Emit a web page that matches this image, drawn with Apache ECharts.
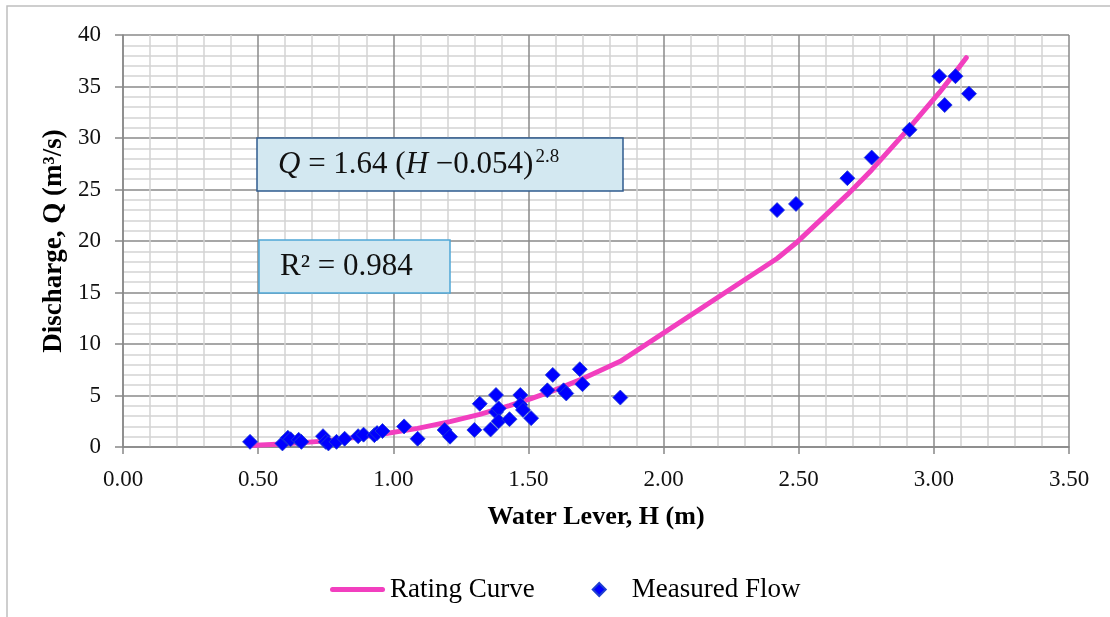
<!DOCTYPE html>
<html>
<head>
<meta charset="utf-8">
<script src="https://cdn.jsdelivr.net/npm/echarts@6/dist/echarts.min.js"></script>
<style>
  html, body { margin: 0; padding: 0; background: #fff; }
  #main { width: 1110px; height: 617px; }
</style>
</head>
<body>
<div id="main"></div>
<script>
// measured points (water level H in m, discharge Q in m3/s)
var measuredH = [0.47, 0.59, 0.61, 0.62, 0.65, 0.66, 0.74, 0.75, 0.76, 0.79, 0.82,
  0.87, 0.89, 0.93, 0.94, 0.96, 1.04, 1.09, 1.19, 1.21, 1.30,
  1.32, 1.36, 1.38, 1.38, 1.39, 1.39, 1.43, 1.47, 1.47, 1.48,
  1.51, 1.57, 1.59, 1.63, 1.64, 1.69, 1.70, 1.84, 2.42, 2.49,
  2.68, 2.77, 2.91, 3.02, 3.04, 3.08, 3.13];
var measuredQ = [0.5, 0.35, 0.9, 0.75, 0.7, 0.5, 1.05, 0.5, 0.35, 0.5, 0.8,
  1.05, 1.2, 1.15, 1.35, 1.55, 2.0, 0.8, 1.65, 1.0, 1.65,
  4.2, 1.7, 5.05, 3.4, 3.75, 2.5, 2.7, 5.05, 4.1, 3.6,
  2.8, 5.5, 7.0, 5.5, 5.2, 7.55, 6.1, 4.8, 23.0, 23.6,
  26.1, 28.1, 30.8, 36.0, 33.2, 36.0, 34.3];

// rating curve as drawn
var curveH = [0.47, 0.59, 0.74, 0.94, 1.09, 1.21, 1.32, 1.43, 1.51, 1.59, 1.70,
  1.84, 2.42, 2.49, 2.68, 2.77, 2.91, 3.02, 3.08, 3.12];
var curveQ = [0.14, 0.29, 0.57, 1.17, 1.81, 2.46, 3.17, 4.01, 4.70, 5.45, 6.62,
  8.32, 18.3, 19.8, 24.5, 26.9, 31.0, 34.4, 36.4, 37.8];

var seriesNames = ['Rating Curve', 'Measured Flow'];

var font = 'Liberation Serif';

function pairs(xs, ys) {
  var out = [];
  for (var i = 0; i < xs.length; i++) out.push([xs[i], ys[i]]);
  return out;
}

var chart = echarts.init(document.getElementById('main'));

chart.setOption({
  backgroundColor: '#fff',
  animation: false,
  textStyle: { fontFamily: font },
  grid: { left: 123, right: 41, top: 35, bottom: 170 },
  legend: {
    left: 325,
    top: 571,
    itemWidth: 55,
    itemHeight: 13,
    itemGap: 57,
    textStyle: { fontFamily: font, fontSize: 27, color: '#000' },
    data: [
      { name: seriesNames[0], icon: 'path://M2.5,0 H52.5 A2.5,2.5 0 0 1 52.5,5 H2.5 A2.5,2.5 0 0 1 2.5,0 Z' },
      { name: seriesNames[1], icon: 'path://M0,-1 L1,0 L0,1 L-1,0 Z' }
    ]
  },
  xAxis: {
    type: 'value',
    min: 0,
    max: 3.5,
    interval: 0.5,
    name: 'Water Lever, H (m)',
    nameLocation: 'middle',
    nameGap: 57,
    nameTextStyle: { fontFamily: font, fontSize: 26, fontWeight: 'bold', color: '#000' },
    axisLine: { lineStyle: { color: '#888', width: 1.5 } },
    axisTick: { show: true, length: 7, lineStyle: { color: '#888', width: 1.5 } },
    axisLabel: {
      margin: 21, fontSize: 23, color: '#111', fontFamily: font,
      formatter: function (v) { return v.toFixed(2); }
    },
    splitLine: { show: true, lineStyle: { color: '#8a8a8a', width: 1.5 } },
    minorTick: { show: false, splitNumber: 5 },
    minorSplitLine: { show: true, lineStyle: { color: '#d4d4d4', width: 1.5 } }
  },
  yAxis: {
    type: 'value',
    min: 0,
    max: 40,
    interval: 5,
    name: 'Discharge, Q (m³/s)',
    nameLocation: 'middle',
    nameGap: 53,
    nameTextStyle: { fontFamily: font, fontSize: 27, fontWeight: 'bold', color: '#000' },
    axisLine: { show: true, lineStyle: { color: '#888', width: 1.5 } },
    axisTick: { show: true, length: 8, lineStyle: { color: '#888', width: 1.5 } },
    axisLabel: { margin: 22, fontSize: 23, color: '#111', fontFamily: font },
    splitLine: { show: true, lineStyle: { color: '#8a8a8a', width: 1.5 } },
    minorTick: { show: false, splitNumber: 5 },
    minorSplitLine: { show: true, lineStyle: { color: '#d4d4d4', width: 1.5 } }
  },
  series: [
    {
      name: seriesNames[0],
      type: 'line',
      symbol: 'none',
      z: 2,
      data: pairs(curveH, curveQ),
      itemStyle: { color: '#f23fbf' },
      lineStyle: { color: '#f23fbf', width: 5, cap: 'round', join: 'round' }
    },
    {
      name: seriesNames[1],
      type: 'scatter',
      symbol: 'diamond',
      symbolSize: 15,
      z: 3,
      data: pairs(measuredH, measuredQ),
      itemStyle: { color: '#0000ff', opacity: 1, borderColor: '#1f3fd0', borderWidth: 0.8 }
    }
  ],
  graphic: [
    {
      type: 'rect',
      silent: true,
      shape: { x: 7, y: 6, width: 1200, height: 700 },
      style: { fill: 'none', stroke: '#bfbfbf', lineWidth: 1.5 },
      z: -10
    },
    {
      type: 'rect',
      z: 100,
      shape: { x: 257, y: 138, width: 366, height: 53 },
      style: { fill: '#d3e8f1', stroke: '#2f5b8f', lineWidth: 1.5 }
    },
    {
      type: 'text',
      z: 101,
      x: 278,
      y: 165,
      style: {
        text: '{i|Q} = 1.64 ({i|H} −0.054){sup|2.8}',
        fontFamily: font,
        fontSize: 31,
        fill: '#111',
        verticalAlign: 'middle',
        rich: {
          i: { fontFamily: font, fontSize: 31, fontStyle: 'italic', fill: '#111' },
          sup: { fontFamily: font, fontSize: 19, fill: '#111', verticalAlign: 'top', padding: [0, 0, 16, 2] }
        }
      }
    },
    {
      type: 'rect',
      z: 100,
      shape: { x: 259, y: 240, width: 191, height: 53 },
      style: { fill: '#d3e8f1', stroke: '#4fa6d6', lineWidth: 1.5 }
    },
    {
      type: 'text',
      z: 101,
      x: 280,
      y: 267,
      style: {
        text: 'R² = 0.984',
        fontFamily: font,
        fontSize: 31,
        fill: '#111',
        verticalAlign: 'middle'
      }
    }
  ]
});
</script>
</body>
</html>
